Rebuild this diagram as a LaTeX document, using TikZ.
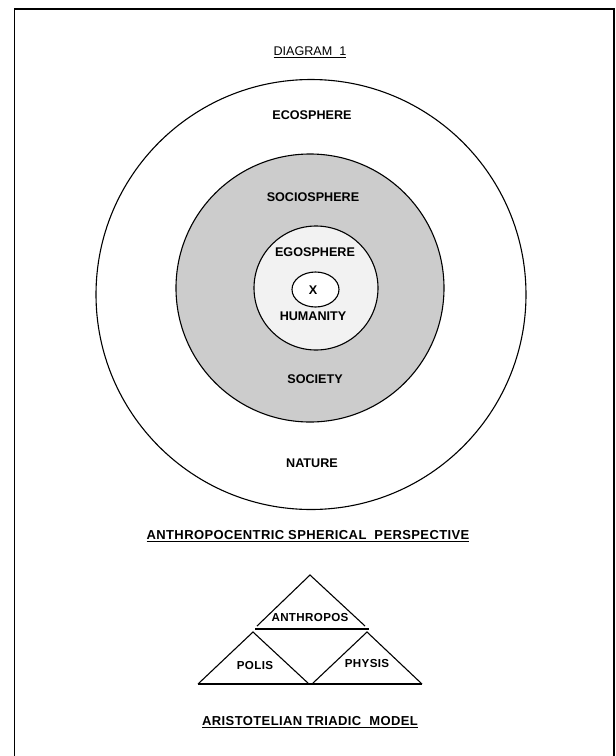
\documentclass[tikz,border=0pt]{standalone}
\usepackage{fontspec}
\setmainfont{Liberation Sans}
\usetikzlibrary{shapes.geometric}
\tikzset{
  lbl/.style={font=\fontsize{12.6}{14}\selectfont\bfseries, inner sep=1pt},
  small/.style={font=\fontsize{11.6}{13}\selectfont\bfseries\addfontfeature{LetterSpace=3}, inner sep=1pt},
  ttl/.style={font=\fontsize{12.6}{14}\selectfont, inner sep=1pt},
  captxt/.style={font=\fontsize{13}{15}\selectfont\bfseries\addfontfeature{LetterSpace=3}, inner sep=1pt},
  ring/.style={line width=1.1pt},
  tri/.style={line width=1.1pt}
}
\begin{document}
\begin{tikzpicture}[x=1pt,y=-1pt]
\useasboundingbox (0,0) rectangle (616,756);
% frame (open at the bottom)
\draw[line width=1.6pt] (14.5,756) -- (14.5,9) -- (614,9) -- (614,756);
% title
\node[ttl] (title) at (310,52) {\underline{DIAGRAM\ \ 1}};
% spheres
\draw[ring] (311,294.5) circle (215);
\fill[black!20, even odd rule] (310,288) circle (134) (316,288) circle (62);
\fill[black!5] (316,288) circle (62);
\draw[ring] (310,288) circle (134);
\draw[ring] (316,288) circle (62);
\draw[ring, fill=white] (315.5,289.5) ellipse (23.5 and 17.5);
% labels
\node[lbl] (eco) at (312,115) {ECOSPHERE};
\node[lbl] (socio) at (313,197) {SOCIOSPHERE};
\node[lbl] (ego) at (315,252) {EGOSPHERE};
\node[lbl] (x) at (313,290) {X};
\node[lbl] (hum) at (313,316) {HUMANITY};
\node[lbl] (soc) at (315,379) {SOCIETY};
\node[lbl] (nat) at (312,463) {NATURE};
\node[captxt] (cap1) at (308,536) {\underline{ANTHROPOCENTRIC\ SPHERICAL\ \ PERSPECTIVE}};
% triadic model
\coordinate (apex) at (310,575);
\coordinate (tl) at (257,626);
\coordinate (tr) at (365,626);
\coordinate (bl0) at (255,629);
\coordinate (br0) at (369,629);
\coordinate (la) at (253,632);
\coordinate (lb) at (198,684);
\coordinate (lc) at (309,684);
\coordinate (ra) at (367,632);
\coordinate (rb) at (312,684);
\coordinate (rc) at (422,684);
\draw[tri] (tl) -- (apex) -- (tr);
\draw[tri] (bl0) -- (br0);
\draw[tri] (lb) -- (la) -- (lc);
\draw[tri] (rb) -- (ra) -- (rc);
\draw[tri] (lb) -- (rc);
\node[small] (anth) at (310,617) {ANTHROPOS};
\node[small] (polis) at (255,665) {POLIS};
\node[small] (phys) at (367,663) {PHYSIS};
\node[captxt] (cap2) at (310,722) {\underline{ARISTOTELIAN\ TRIADIC\ \ MODEL}};
\end{tikzpicture}
\end{document}
